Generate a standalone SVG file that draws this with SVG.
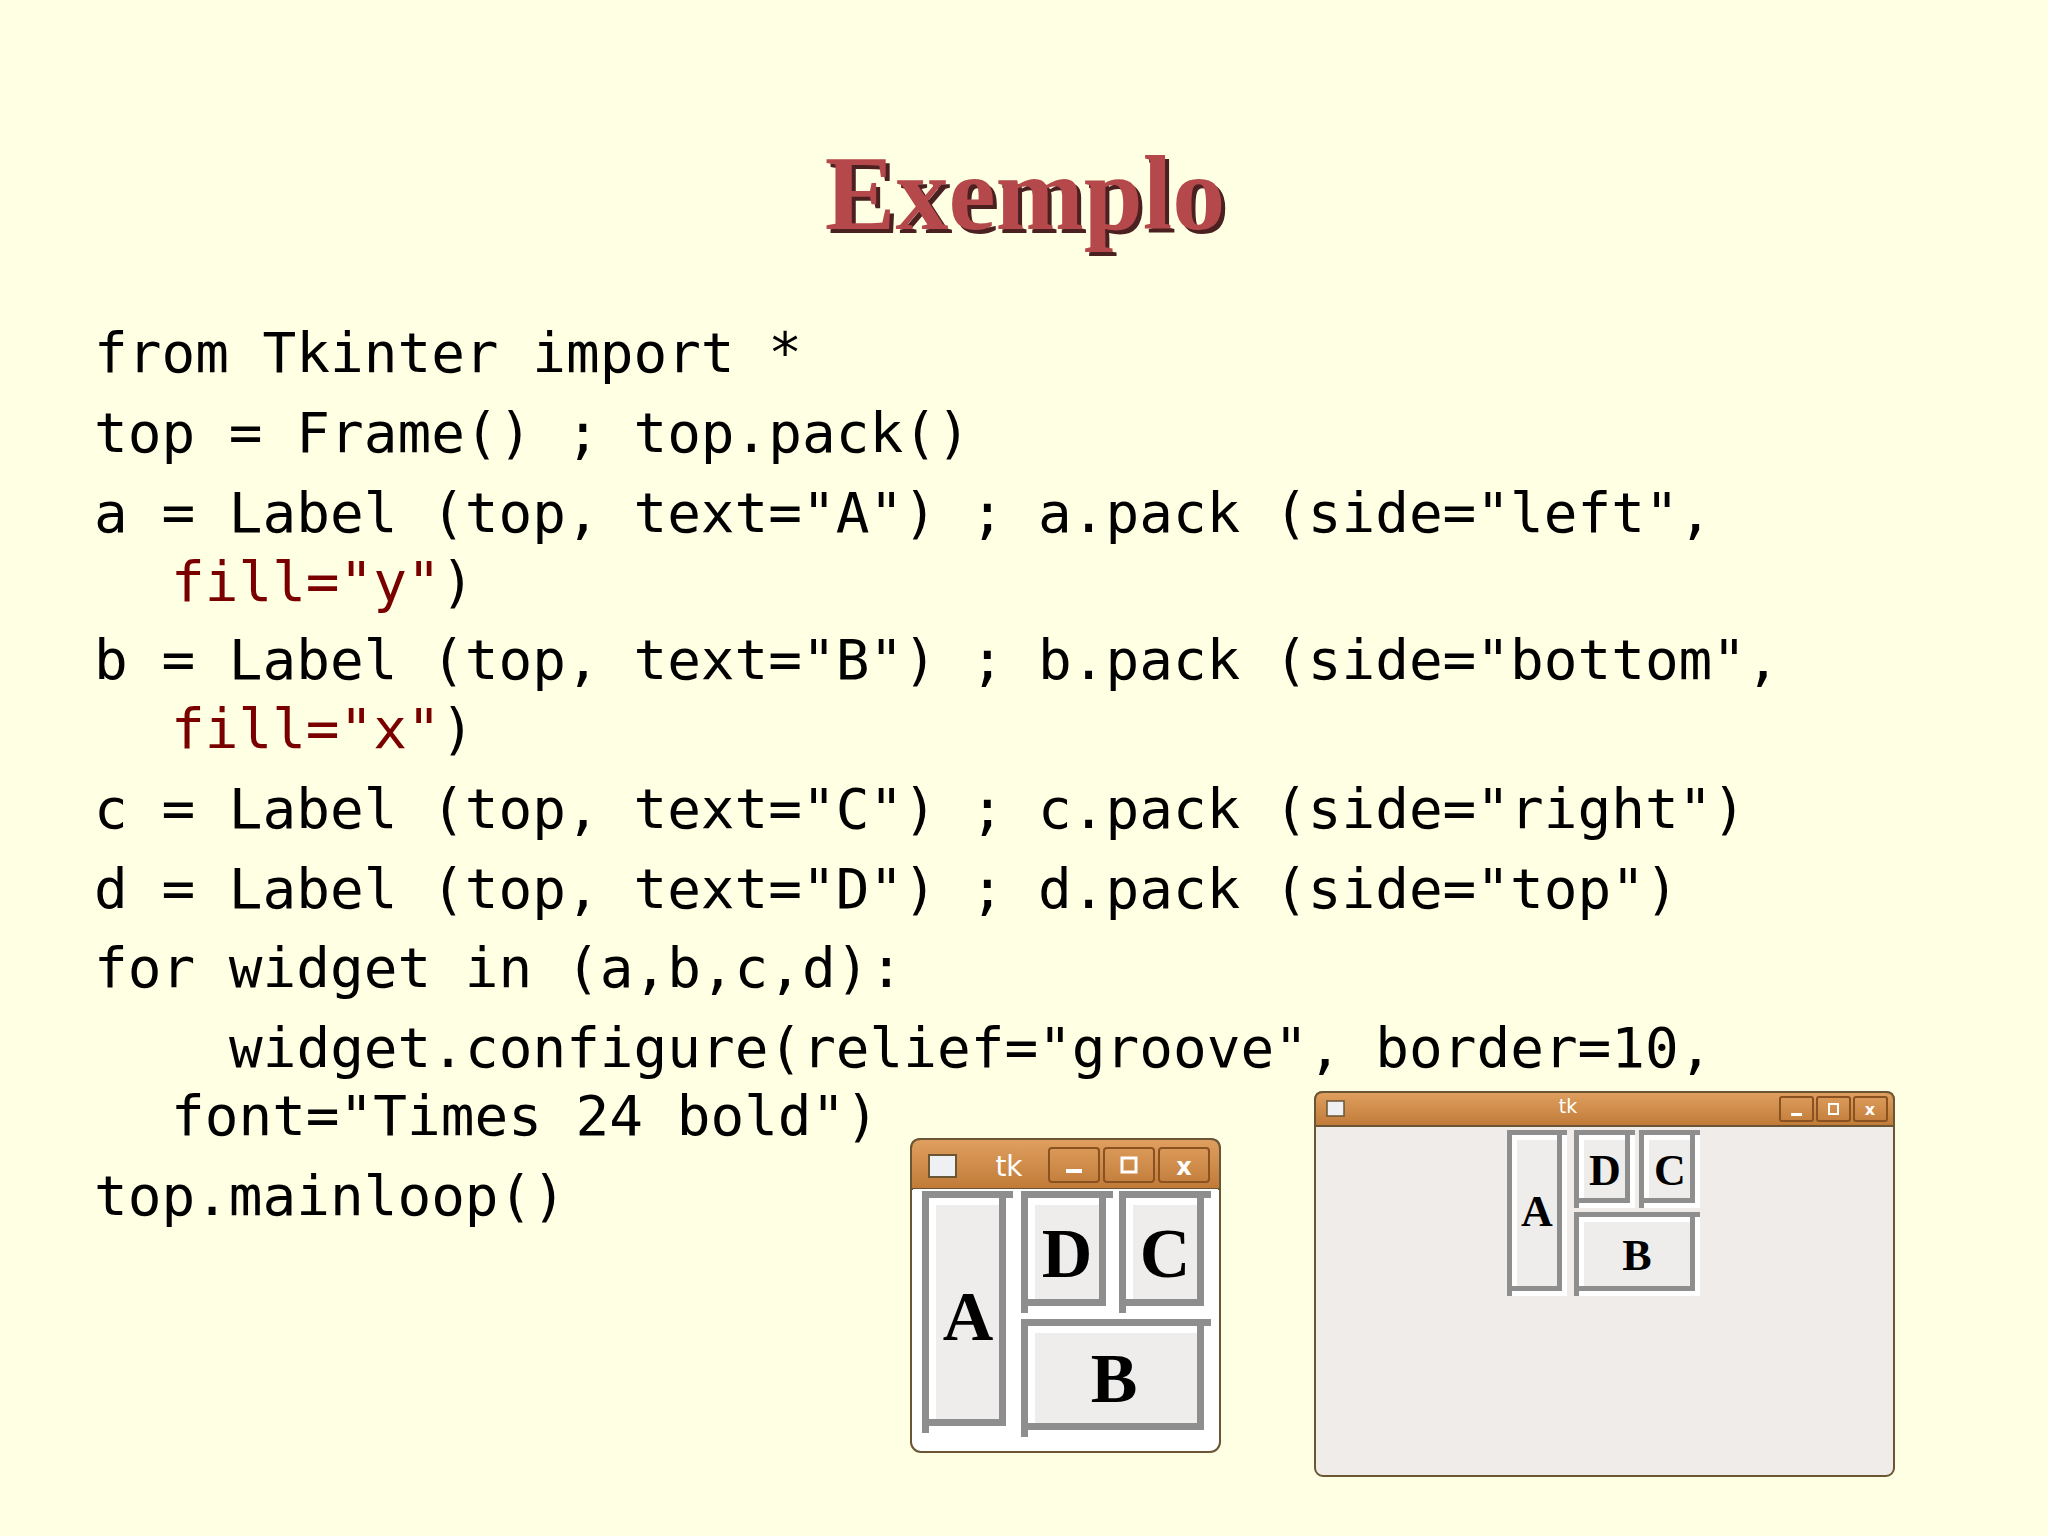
<svg xmlns="http://www.w3.org/2000/svg" width="2048" height="1536" viewBox="0 0 2048 1536">
<defs>
<linearGradient id="tb" x1="0" y1="0" x2="0" y2="1"><stop offset="0" stop-color="#e0a060"/><stop offset="1" stop-color="#c07a38"/></linearGradient>
</defs>
<style>
.code{font-family:"DejaVu Sans Mono",monospace;font-size:56px;fill:#000}
.red{fill:#7a0000}
.lbl{font-family:"Liberation Serif",serif;font-weight:bold;fill:#000;text-anchor:middle}
.tk{font-family:"DejaVu Sans",sans-serif;fill:#fff;text-anchor:middle}
.btn{fill:none;stroke:#8a5220;stroke-width:2}
</style>
<rect width="2048" height="1536" fill="#ffffe3"/>
<g id="title">
<text x="1029" y="233" font-family="Liberation Serif,serif" font-weight="bold" font-size="106" text-anchor="middle" fill="#4a2020">Exemplo</text>
<text x="1025" y="229" font-family="Liberation Serif,serif" font-weight="bold" font-size="106" text-anchor="middle" fill="#b5484a">Exemplo</text>
</g>
<g id="code">
<text class="code" x="94" y="372">from Tkinter import *</text>
<text class="code" x="94" y="452">top = Frame() ; top.pack()</text>
<text class="code" x="94" y="532">a = Label (top, text="A") ; a.pack (side="left",</text>
<text class="code" x="171" y="601"><tspan class="red">fill="y"</tspan>)</text>
<text class="code" x="94" y="679">b = Label (top, text="B") ; b.pack (side="bottom",</text>
<text class="code" x="171" y="748"><tspan class="red">fill="x"</tspan>)</text>
<text class="code" x="94" y="828">c = Label (top, text="C") ; c.pack (side="right")</text>
<text class="code" x="94" y="908">d = Label (top, text="D") ; d.pack (side="top")</text>
<text class="code" x="94" y="987">for widget in (a,b,c,d):</text>
<text class="code" x="229" y="1067">widget.configure(relief="groove", border=10,</text>
<text class="code" x="171" y="1135">font="Times 24 bold")</text>
<text class="code" x="94" y="1215">top.mainloop()</text>
</g>
<g id="window-small">
<rect x="911" y="1139" width="309" height="313" rx="10" fill="#ffffff" stroke="#6a5535" stroke-width="2"/>
<path d="M911,1189 V1149 Q911,1139 921,1139 H1210 Q1220,1139 1220,1149 V1189 Z" fill="url(#tb)" stroke="#6a5535" stroke-width="2"/>
<rect x="929" y="1155" width="27" height="22" fill="#eef0f4" stroke="#6a5535" stroke-width="2"/>
<text class="tk" x="1009" y="1176" font-size="28">tk</text>
<rect class="btn" x="1049" y="1148" width="50" height="34" rx="3"/>
<rect class="btn" x="1104" y="1148" width="50" height="34" rx="3"/>
<rect class="btn" x="1159" y="1148" width="50" height="34" rx="3"/>
<rect x="1066" y="1169" width="16" height="4" fill="#fff"/>
<rect x="1122" y="1158" width="14" height="14" fill="none" stroke="#fff" stroke-width="3"/>
<text class="tk" x="1184" y="1175" font-size="24" font-weight="bold">x</text>
<rect x="913" y="1189" width="305" height="250" fill="#ffffff"/>
<g id="sA"><rect x="922" y="1191" width="91" height="242" fill="#8e8e8e"/><rect x="929" y="1198" width="84" height="235" fill="#fff"/><rect x="929" y="1198" width="77" height="228" fill="#8e8e8e"/><rect x="929" y="1198" width="70" height="221" fill="#fff"/><rect x="936" y="1205" width="63" height="214" fill="#efedeb"/><text class="lbl" x="968" y="1340" font-size="70">A</text></g>
<g id="sD"><rect x="1021" y="1191" width="92" height="122" fill="#8e8e8e"/><rect x="1028" y="1198" width="85" height="115" fill="#fff"/><rect x="1028" y="1198" width="78" height="108" fill="#8e8e8e"/><rect x="1028" y="1198" width="71" height="101" fill="#fff"/><rect x="1035" y="1205" width="64" height="94" fill="#efedeb"/><text class="lbl" x="1067" y="1277" font-size="70">D</text></g>
<g id="sC"><rect x="1119" y="1191" width="92" height="122" fill="#8e8e8e"/><rect x="1126" y="1198" width="85" height="115" fill="#fff"/><rect x="1126" y="1198" width="78" height="108" fill="#8e8e8e"/><rect x="1126" y="1198" width="71" height="101" fill="#fff"/><rect x="1133" y="1205" width="64" height="94" fill="#efedeb"/><text class="lbl" x="1165" y="1277" font-size="70">C</text></g>
<g id="sB"><rect x="1021" y="1319" width="190" height="118" fill="#8e8e8e"/><rect x="1028" y="1326" width="183" height="111" fill="#fff"/><rect x="1028" y="1326" width="176" height="104" fill="#8e8e8e"/><rect x="1028" y="1326" width="169" height="97" fill="#fff"/><rect x="1035" y="1333" width="162" height="90" fill="#efedeb"/><text class="lbl" x="1114" y="1402" font-size="70">B</text></g>
</g>
<g id="window-big">
<rect x="1315" y="1092" width="579" height="384" rx="8" fill="#efecea" stroke="#6a5535" stroke-width="2"/>
<path d="M1315,1126 V1100 Q1315,1092 1323,1092 H1886 Q1894,1092 1894,1100 V1126 Z" fill="url(#tb)" stroke="#6a5535" stroke-width="2"/>
<rect x="1327" y="1101" width="17" height="15" fill="#eef0f4" stroke="#6a5535" stroke-width="1.5"/>
<text class="tk" x="1568" y="1113" font-size="19">tk</text>
<rect class="btn" x="1780" y="1097" width="33" height="24" rx="2"/>
<rect class="btn" x="1817" y="1097" width="33" height="24" rx="2"/>
<rect class="btn" x="1854" y="1097" width="33" height="24" rx="2"/>
<rect x="1791" y="1113" width="11" height="3" fill="#fff"/>
<rect x="1829" y="1104" width="9" height="10" fill="none" stroke="#fff" stroke-width="2"/>
<text class="tk" x="1870" y="1115" font-size="16" font-weight="bold">x</text>
<g id="bA"><rect x="1507" y="1130" width="60" height="166" fill="#8e8e8e"/><rect x="1512" y="1135" width="55" height="161" fill="#fff"/><rect x="1512" y="1135" width="50" height="156" fill="#8e8e8e"/><rect x="1512" y="1135" width="45" height="151" fill="#fff"/><rect x="1517" y="1140" width="40" height="146" fill="#efedeb"/><text class="lbl" x="1537" y="1226" font-size="44">A</text></g>
<g id="bD"><rect x="1574" y="1130" width="61" height="78" fill="#8e8e8e"/><rect x="1579" y="1135" width="56" height="73" fill="#fff"/><rect x="1579" y="1135" width="51" height="68" fill="#8e8e8e"/><rect x="1579" y="1135" width="46" height="63" fill="#fff"/><rect x="1584" y="1140" width="41" height="58" fill="#efedeb"/><text class="lbl" x="1605" y="1185" font-size="44">D</text></g>
<g id="bC"><rect x="1639" y="1130" width="61" height="78" fill="#8e8e8e"/><rect x="1644" y="1135" width="56" height="73" fill="#fff"/><rect x="1644" y="1135" width="51" height="68" fill="#8e8e8e"/><rect x="1644" y="1135" width="46" height="63" fill="#fff"/><rect x="1649" y="1140" width="41" height="58" fill="#efedeb"/><text class="lbl" x="1670" y="1185" font-size="44">C</text></g>
<g id="bB"><rect x="1574" y="1212" width="126" height="84" fill="#8e8e8e"/><rect x="1579" y="1217" width="121" height="79" fill="#fff"/><rect x="1579" y="1217" width="116" height="74" fill="#8e8e8e"/><rect x="1579" y="1217" width="111" height="69" fill="#fff"/><rect x="1584" y="1222" width="106" height="64" fill="#efedeb"/><text class="lbl" x="1637" y="1270" font-size="44">B</text></g>
</g>
<g id="connectors"/>
</svg>
